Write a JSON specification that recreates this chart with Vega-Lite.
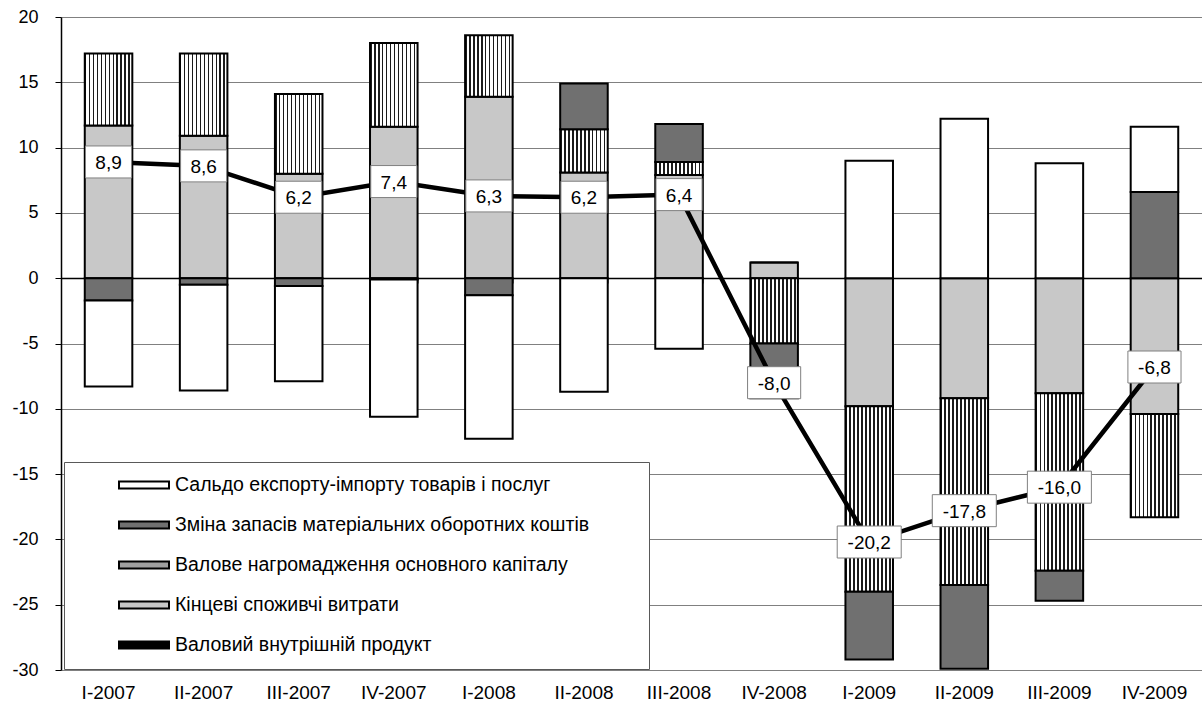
{
  "$schema": "https://vega.github.io/schema/vega-lite/v6.json",
  "autosize": {"type": "none"},
  "padding": {"left": 61, "top": 17, "right": 0, "bottom": 45},
  "width": 1141,
  "height": 653,
  "background": "white",
  "config": {
    "font": "Liberation Sans",
    "view": {"stroke": null},
    "locale": {"number": {"decimal": ",", "thousands": " ", "grouping": [3], "currency": ["", ""], "minus": "-"}}
  },
  "datasets": {
    "bars": [
      {"q": "I-2007", "c": "Кінцеві споживчі витрати", "k": 1, "v": 11.7},
      {"q": "I-2007", "c": "Валове нагромадження основного капіталу", "k": 2, "v": 5.5},
      {"q": "I-2007", "c": "Зміна запасів матеріальних оборотних коштів", "k": 3, "v": -1.7},
      {"q": "I-2007", "c": "Сальдо експорту-імпорту товарів і послуг", "k": 4, "v": -6.6},
      {"q": "II-2007", "c": "Кінцеві споживчі витрати", "k": 1, "v": 10.9},
      {"q": "II-2007", "c": "Валове нагромадження основного капіталу", "k": 2, "v": 6.3},
      {"q": "II-2007", "c": "Зміна запасів матеріальних оборотних коштів", "k": 3, "v": -0.5},
      {"q": "II-2007", "c": "Сальдо експорту-імпорту товарів і послуг", "k": 4, "v": -8.1},
      {"q": "III-2007", "c": "Кінцеві споживчі витрати", "k": 1, "v": 8.0},
      {"q": "III-2007", "c": "Валове нагромадження основного капіталу", "k": 2, "v": 6.1},
      {"q": "III-2007", "c": "Зміна запасів матеріальних оборотних коштів", "k": 3, "v": -0.6},
      {"q": "III-2007", "c": "Сальдо експорту-імпорту товарів і послуг", "k": 4, "v": -7.3},
      {"q": "IV-2007", "c": "Кінцеві споживчі витрати", "k": 1, "v": 11.6},
      {"q": "IV-2007", "c": "Валове нагромадження основного капіталу", "k": 2, "v": 6.4},
      {"q": "IV-2007", "c": "Зміна запасів матеріальних оборотних коштів", "k": 3, "v": -0.1},
      {"q": "IV-2007", "c": "Сальдо експорту-імпорту товарів і послуг", "k": 4, "v": -10.5},
      {"q": "I-2008", "c": "Кінцеві споживчі витрати", "k": 1, "v": 13.9},
      {"q": "I-2008", "c": "Валове нагромадження основного капіталу", "k": 2, "v": 4.7},
      {"q": "I-2008", "c": "Зміна запасів матеріальних оборотних коштів", "k": 3, "v": -1.3},
      {"q": "I-2008", "c": "Сальдо експорту-імпорту товарів і послуг", "k": 4, "v": -11.0},
      {"q": "II-2008", "c": "Кінцеві споживчі витрати", "k": 1, "v": 8.1},
      {"q": "II-2008", "c": "Валове нагромадження основного капіталу", "k": 2, "v": 3.3},
      {"q": "II-2008", "c": "Зміна запасів матеріальних оборотних коштів", "k": 3, "v": 3.5},
      {"q": "II-2008", "c": "Сальдо експорту-імпорту товарів і послуг", "k": 4, "v": -8.7},
      {"q": "III-2008", "c": "Кінцеві споживчі витрати", "k": 1, "v": 7.9},
      {"q": "III-2008", "c": "Валове нагромадження основного капіталу", "k": 2, "v": 1.0},
      {"q": "III-2008", "c": "Зміна запасів матеріальних оборотних коштів", "k": 3, "v": 2.9},
      {"q": "III-2008", "c": "Сальдо експорту-імпорту товарів і послуг", "k": 4, "v": -5.4},
      {"q": "IV-2008", "c": "Кінцеві споживчі витрати", "k": 1, "v": 1.2},
      {"q": "IV-2008", "c": "Валове нагромадження основного капіталу", "k": 2, "v": -5.0},
      {"q": "IV-2008", "c": "Зміна запасів матеріальних оборотних коштів", "k": 3, "v": -4.2},
      {"q": "IV-2008", "c": "Сальдо експорту-імпорту товарів і послуг", "k": 4, "v": 0.0},
      {"q": "I-2009", "c": "Кінцеві споживчі витрати", "k": 1, "v": -9.8},
      {"q": "I-2009", "c": "Валове нагромадження основного капіталу", "k": 2, "v": -14.2},
      {"q": "I-2009", "c": "Зміна запасів матеріальних оборотних коштів", "k": 3, "v": -5.2},
      {"q": "I-2009", "c": "Сальдо експорту-імпорту товарів і послуг", "k": 4, "v": 9.0},
      {"q": "II-2009", "c": "Кінцеві споживчі витрати", "k": 1, "v": -9.2},
      {"q": "II-2009", "c": "Валове нагромадження основного капіталу", "k": 2, "v": -14.3},
      {"q": "II-2009", "c": "Зміна запасів матеріальних оборотних коштів", "k": 3, "v": -6.4},
      {"q": "II-2009", "c": "Сальдо експорту-імпорту товарів і послуг", "k": 4, "v": 12.2},
      {"q": "III-2009", "c": "Кінцеві споживчі витрати", "k": 1, "v": -8.8},
      {"q": "III-2009", "c": "Валове нагромадження основного капіталу", "k": 2, "v": -13.6},
      {"q": "III-2009", "c": "Зміна запасів матеріальних оборотних коштів", "k": 3, "v": -2.3},
      {"q": "III-2009", "c": "Сальдо експорту-імпорту товарів і послуг", "k": 4, "v": 8.8},
      {"q": "IV-2009", "c": "Кінцеві споживчі витрати", "k": 1, "v": -10.4},
      {"q": "IV-2009", "c": "Валове нагромадження основного капіталу", "k": 2, "v": -7.9},
      {"q": "IV-2009", "c": "Зміна запасів матеріальних оборотних коштів", "k": 3, "v": 6.6},
      {"q": "IV-2009", "c": "Сальдо експорту-імпорту товарів і послуг", "k": 4, "v": 5.0}
    ],
    "gdp": [
      {"q": "I-2007", "gdp": 8.9},
      {"q": "II-2007", "gdp": 8.6},
      {"q": "III-2007", "gdp": 6.2},
      {"q": "IV-2007", "gdp": 7.4},
      {"q": "I-2008", "gdp": 6.3},
      {"q": "II-2008", "gdp": 6.2},
      {"q": "III-2008", "gdp": 6.4},
      {"q": "IV-2008", "gdp": -8.0},
      {"q": "I-2009", "gdp": -20.2},
      {"q": "II-2009", "gdp": -17.8},
      {"q": "III-2009", "gdp": -16.0},
      {"q": "IV-2009", "gdp": -6.8}
    ]
  },
  "resolve": {"axis": {"x": "independent"}},
  "layer": [
    {
      "data": {"name": "bars"},
      "mark": {"type": "bar", "stroke": "#000000", "strokeWidth": 2, "opacity": 1},
      "encoding": {
        "x": {
          "field": "q", "type": "nominal",
          "scale": {"domain": ["I-2007", "II-2007", "III-2007", "IV-2007", "I-2008", "II-2008", "III-2008", "IV-2008", "I-2009", "II-2009", "III-2009", "IV-2009"], "paddingInner": 0.5, "paddingOuter": 0.25},
          "axis": {"title": null, "orient": "bottom", "domain": false, "ticks": false, "grid": false, "labelAngle": 0, "labelFontSize": 19, "labelColor": "#000000", "labelPadding": 13, "labelFont": "Liberation Sans"}
        },
        "y": {
          "field": "v", "type": "quantitative", "stack": "zero",
          "scale": {"domain": [-30, 20], "nice": false, "zero": false},
          "axis": {"title": null, "values": [-30, -25, -20, -15, -10, -5, 0, 5, 10, 15, 20], "grid": true, "gridColor": "#808080", "gridWidth": 1, "domain": true, "domainColor": "#000000", "domainWidth": 1.5, "ticks": true, "tickColor": "#000000", "tickSize": 6, "labelFontSize": 18, "labelColor": "#000000", "labelPadding": 17, "format": "d", "labelFont": "Liberation Sans"}
        },
        "order": {"field": "k", "type": "quantitative"},
        "color": {
          "condition": {
            "test": "datum.c === 'Валове нагромадження основного капіталу'",
            "value": {"gradient": "linear", "x1": 0, "y1": 0, "x2": 1, "y2": 0, "stops": [
              {"offset": 0, "color": "#1a1a1a"}, {"offset": 0.0333, "color": "#1a1a1a"}, {"offset": 0.0333, "color": "#ffffff"}, {"offset": 0.0833, "color": "#ffffff"},
              {"offset": 0.0833, "color": "#1a1a1a"}, {"offset": 0.1167, "color": "#1a1a1a"}, {"offset": 0.1167, "color": "#ffffff"}, {"offset": 0.1667, "color": "#ffffff"},
              {"offset": 0.1667, "color": "#1a1a1a"}, {"offset": 0.2, "color": "#1a1a1a"}, {"offset": 0.2, "color": "#ffffff"}, {"offset": 0.25, "color": "#ffffff"},
              {"offset": 0.25, "color": "#1a1a1a"}, {"offset": 0.2833, "color": "#1a1a1a"}, {"offset": 0.2833, "color": "#ffffff"}, {"offset": 0.3333, "color": "#ffffff"},
              {"offset": 0.3333, "color": "#1a1a1a"}, {"offset": 0.3667, "color": "#1a1a1a"}, {"offset": 0.3667, "color": "#ffffff"}, {"offset": 0.4167, "color": "#ffffff"},
              {"offset": 0.4167, "color": "#1a1a1a"}, {"offset": 0.45, "color": "#1a1a1a"}, {"offset": 0.45, "color": "#ffffff"}, {"offset": 0.5, "color": "#ffffff"},
              {"offset": 0.5, "color": "#1a1a1a"}, {"offset": 0.5333, "color": "#1a1a1a"}, {"offset": 0.5333, "color": "#ffffff"}, {"offset": 0.5833, "color": "#ffffff"},
              {"offset": 0.5833, "color": "#1a1a1a"}, {"offset": 0.6167, "color": "#1a1a1a"}, {"offset": 0.6167, "color": "#ffffff"}, {"offset": 0.6667, "color": "#ffffff"},
              {"offset": 0.6667, "color": "#1a1a1a"}, {"offset": 0.7, "color": "#1a1a1a"}, {"offset": 0.7, "color": "#ffffff"}, {"offset": 0.75, "color": "#ffffff"},
              {"offset": 0.75, "color": "#1a1a1a"}, {"offset": 0.7833, "color": "#1a1a1a"}, {"offset": 0.7833, "color": "#ffffff"}, {"offset": 0.8333, "color": "#ffffff"},
              {"offset": 0.8333, "color": "#1a1a1a"}, {"offset": 0.8667, "color": "#1a1a1a"}, {"offset": 0.8667, "color": "#ffffff"}, {"offset": 0.9167, "color": "#ffffff"},
              {"offset": 0.9167, "color": "#1a1a1a"}, {"offset": 0.95, "color": "#1a1a1a"}, {"offset": 0.95, "color": "#ffffff"}, {"offset": 1, "color": "#ffffff"}
            ]}
          },
          "field": "c", "type": "nominal",
          "scale": {
            "domain": ["Сальдо експорту-імпорту товарів і послуг", "Зміна запасів матеріальних оборотних коштів", "Валове нагромадження основного капіталу", "Кінцеві споживчі витрати", "Валовий внутрішній продукт"],
            "range": ["#ffffff", "#707070", "#a0a0a0", "#c8c8c8", "#000000"]
          },
          "legend": {
            "title": null,
            "orient": "none",
            "legendX": 3,
            "legendY": 445,
            "direction": "vertical",
            "fillColor": "#ffffff",
            "strokeColor": "#595959",
            "padding": 14,
            "labelFontSize": 19.5,
            "labelFont": "Liberation Sans",
            "labelColor": "#000000",
            "labelLimit": 900,
            "labelOffset": 5,
            "symbolOffset": 40,
            "symbolSize": 2500,
            "symbolType": "M-1,-0.14H1V0.14H-1Z",
            "symbolStrokeColor": "#000000",
            "symbolStrokeWidth": 2,
            "clipHeight": 18,
            "rowPadding": 20,
            "labelExpr": "datum.label + '\u2800\u2800\u2800'"
          }
        }
      }
    },
    {
      "data": {"name": "gdp"},
      "mark": {"type": "line", "strokeWidth": 4.5, "color": "#000000", "opacity": 1},
      "encoding": {
        "x": {
          "field": "q", "type": "nominal",
          "scale": {"domain": ["I-2007", "II-2007", "III-2007", "IV-2007", "I-2008", "II-2008", "III-2008", "IV-2008", "I-2009", "II-2009", "III-2009", "IV-2009"], "paddingInner": 0.5, "paddingOuter": 0.25},
          "axis": {"title": null, "orient": "bottom", "offset": -392, "labels": false, "grid": false, "domain": true, "domainColor": "#000000", "domainWidth": 1.5, "ticks": true, "tickBand": "extent", "tickSize": 5, "tickColor": "#808080", "tickWidth": 1}
        },
        "y": {"field": "gdp", "type": "quantitative"}
      }
    },
    {
      "data": {"name": "gdp"},
      "mark": {"type": "point", "filled": true, "fill": "#ffffff", "stroke": "#808080", "strokeWidth": 1, "opacity": 1, "size": 1024},
      "encoding": {
        "x": {"field": "q", "type": "nominal", "axis": null},
        "y": {"field": "gdp", "type": "quantitative"},
        "shape": {
          "condition": [
            {"test": "abs(datum.gdp) >= 10", "value": "M-2,-1H2V1H-2Z"},
            {"test": "datum.gdp < 0", "value": "M-1.66,-1H1.66V1H-1.66Z"}
          ],
          "value": "M-1.44,-1H1.44V1H-1.44Z"
        }
      }
    },
    {
      "data": {"name": "gdp"},
      "mark": {"type": "text", "fontSize": 19, "font": "Liberation Sans", "color": "#000000", "align": "center", "baseline": "middle", "dy": 1},
      "encoding": {
        "x": {"field": "q", "type": "nominal", "axis": null},
        "y": {"field": "gdp", "type": "quantitative"},
        "text": {"field": "gdp", "type": "quantitative", "format": ".1f"}
      }
    }
  ]
}
